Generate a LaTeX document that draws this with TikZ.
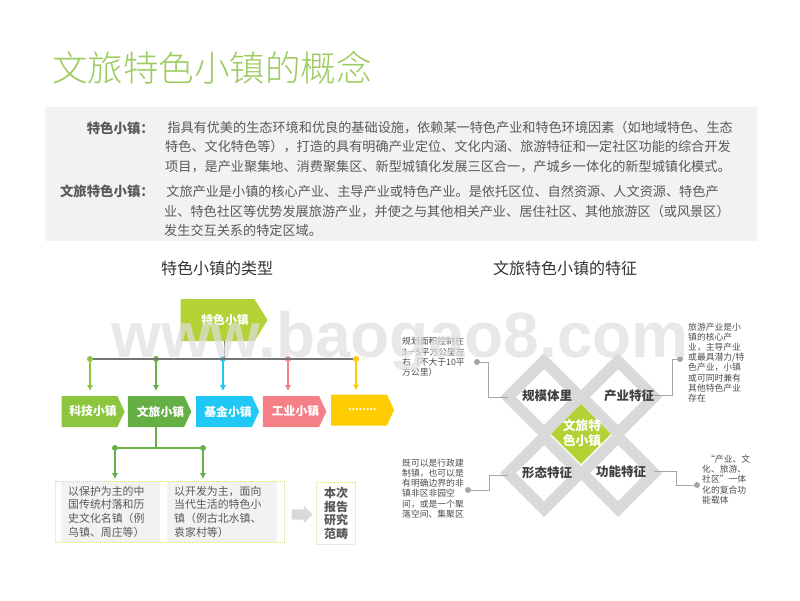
\documentclass[tikz,border=0pt]{standalone}
\usepackage{fontspec}
\setmainfont{Noto Sans CJK SC}
\newfontfamily\markfont{Liberation Sans}
\newfontfamily\lightfont{Noto Sans CJK SC Light}
\usetikzlibrary{arrows.meta,shapes.geometric,shapes.symbols,shapes.arrows}
\definecolor{titlegreen}{HTML}{9CCB5F}
\definecolor{panelgray}{HTML}{F2F2F2}
\definecolor{limegreen}{HTML}{B2D235}
\definecolor{leafgreen}{HTML}{8CC63F}
\definecolor{darkgreen}{HTML}{66AF45}
\definecolor{skyblue}{HTML}{1FC8F5}
\definecolor{rosered}{HTML}{F47F86}
\definecolor{sunyellow}{HTML}{FFCC00}
\definecolor{linegray}{HTML}{A6A6A6}
\definecolor{framegray}{HTML}{D9D9D9}
\definecolor{bodygray}{HTML}{595959}
\tikzset{
  tag/.style={signal, signal to=east, signal from=nowhere, signal pointer angle=130, inner sep=0, outer sep=0, minimum width=63, minimum height=31, text=white, font=\fontsize{11.8}{15}\selectfont\bfseries},
  dot/.style={circle, fill, inner sep=0, minimum size=6},
  drop/.style={line width=1.2, -{Latex[length=6,width=6.5]}},
  bodytext/.style={anchor=west, align=left, inner sep=0, text=bodygray, font=\fontsize{13.15}{19.5}\selectfont},
  bodyhead/.style={anchor=east, inner sep=0, text=bodygray, font=\fontsize{13.4}{15}\selectfont\bfseries},
  subhead/.style={inner sep=0, text=black!80, font=\fontsize{16}{18}\selectfont},
  typetext/.style={anchor=west, align=left, inner sep=0, text=bodygray, font=\fontsize{10.9}{13.7}\selectfont},
  sidetext/.style={anchor=west, align=left, inner sep=0, text=black!70, font=\fontsize{8.8}{10.2}\selectfont},
  frame/.style={diamond, draw=framegray, fill=white, line width=11.3, aspect=1, inner sep=0, outer sep=0, minimum size=72},
  framelabel/.style={inner sep=0, text=black!75, font=\fontsize{12.5}{15}\selectfont\bfseries},
  dotbox/.style={draw=limegreen!60, densely dotted, line width=1},
}
\begin{document}
\begin{tikzpicture}[x=1pt,y=-1pt]
\useasboundingbox (0,0) rectangle (800,600);
\node[inner sep=0, anchor=west, text=titlegreen, font=\lightfont\fontsize{35.5}{38}\selectfont] (title) at (52,68) {文旅特色小镇的概念};
\node[fill=panelgray, inner sep=0, minimum width=712, minimum height=134, anchor=north west] (panel) at (45,107) {};
\node[bodyhead] (headtown) at (154,128) {特色小镇：};
\node[bodytext] (texttown) at (165,147) {\,指具有优美的生态环境和优良的基础设施，依赖某一特色产业和特色环境因素（如地域特色、生态\\特色、文化特色等），打造的具有明确产业定位、文化内涵、旅游特征和一定社区功能的综合开发\\项目，是产业聚集地、消费聚集区、新型城镇化发展三区合一，产城乡一体化的新型城镇化模式。};
\node[bodyhead] (headtour) at (154,191) {文旅特色小镇：};
\node[bodytext] (texttour) at (164,211) {\,文旅产业是小镇的核心产业、主导产业或特色产业。是依托区位、自然资源、人文资源、特色产\\业、特色社区等优势发展旅游产业，并使之与其他相关产业、居住社区、其他旅游区（或风景区）\\发生交互关系的特定区域。};
\node[subhead] (headtype) at (217,268) {特色小镇的类型};
\node[subhead] (headfeat) at (565,268) {文旅特色小镇的特征};

\node[tag, fill=limegreen, minimum width=87, minimum height=42, signal pointer angle=116] (tid0) at (217.5,320) {\hspace*{15pt}特色小镇};
\node[tag, fill=leafgreen] (tid1) at (89.5,411.5) {\hspace*{7pt}科技小镇};
\node[tag, fill=darkgreen] (tid2) at (156,411.5) {\hspace*{9pt}文旅小镇};
\node[tag, fill=skyblue] (tid3) at (224,411.5) {\hspace*{8pt}基金小镇};
\node[tag, fill=rosered] (tid4) at (291,411.5) {\hspace*{9pt}工业小镇};
\node[tag, fill=sunyellow, font=\fontsize{10}{15}\selectfont\bfseries] (tid5) at (359,410) {\hspace*{7pt}........};
\coordinate (tbranch) at (224,359);
\node[dot, leafgreen] (bid1) at (90,359) {};
\node[dot, darkgreen] (bid2) at (156,359) {};
\node[dot, skyblue] (bid3) at (223,359) {};
\node[dot, rosered] (bid4) at (288,359) {};
\node[dot, sunyellow] (bid5) at (356,359) {};
\draw[linegray!70!black, line width=1] (tid0.south -| tbranch) -- (tbranch);
\draw[linegray!70!black, line width=1.5] (bid1) -- (bid5);
\draw[drop, leafgreen, shorten >=5] (bid1) -- (bid1 |- tid1.north);
\draw[drop, darkgreen, shorten >=5] (bid2) -- (bid2 |- tid2.north);
\draw[drop, skyblue, shorten >=5] (bid3) -- (bid3 |- tid3.north);
\draw[drop, rosered, shorten >=5] (bid4) -- (bid4 |- tid4.north);
\draw[drop, sunyellow, shorten >=4] (bid5) -- (bid5 |- tid5.north);

\node[dot, darkgreen] (bid6) at (115,448) {};
\node[dot, darkgreen] (bid7) at (203,448) {};
\coordinate (tbend) at (156,448);
\node[fill=panelgray, inner sep=0, minimum width=99, minimum height=61, anchor=north west] (boxold) at (61,481) {};
\node[fill=panelgray, inner sep=0, minimum width=110, minimum height=61, anchor=north west] (boxnew) at (167,481) {};
\node[dotbox, inner sep=0, minimum width=229, minimum height=61, anchor=north west] (boxall) at (55,481) {};
\node[typetext] (textold) at (68,511.5) {以保护为主的中\\国传统村落和历\\史文化名镇（例\\乌镇、周庄等）};
\node[typetext] (textnew) at (174,511.5) {以开发为主，面向\\当代生活的特色小\\镇（例古北水镇、\\袁家村等）};
\draw[darkgreen, line width=1.4] (tid2.south -| tbend) -- (tbend);
\draw[darkgreen, line width=1.4] (bid6) -- (bid7);
\draw[drop, darkgreen, shorten >=2] (bid6) -- (bid6 |- boxall.north);
\draw[drop, darkgreen, shorten >=2] (bid7) -- (bid7 |- boxall.north);
\node[single arrow, fill=framegray, inner xsep=0, inner ysep=5, outer sep=0, minimum height=21, single arrow head extend=3.5, single arrow tip angle=90] (arrowscope) at (299.5,514.5) {};
\node[dotbox, inner sep=0, minimum width=39, minimum height=62, align=center, text=bodygray, font=\fontsize{12}{13.4}\selectfont\bfseries, anchor=north west] (boxscope) at (316,482) {本次\\报告\\研究\\范畴};

\node[frame] (fid1) at (544,397) {};
\node[frame] (fid2) at (618,397) {};
\node[frame] (fid3) at (544,473) {};
\node[frame] (fid4) at (618,473) {};
\node[diamond, fill=limegreen, aspect=1, inner sep=0, minimum size=60] (fid0) at (581,434) {};
\node[inner sep=0, align=center, text=white, font=\fontsize{12.8}{14.5}\selectfont\bfseries] (centerlabel) at (582,433) {文旅特\\色小镇};
\node[framelabel] (lid1) at (547,396) {规模体里};
\node[framelabel] (lid2) at (629,396) {产业特征};
\node[framelabel] (lid3) at (547,473) {形态特征};
\node[framelabel] (lid4) at (621,472) {功能特征};

\node[dot, linegray] (did1) at (477,362) {};
\node[dot, linegray] (did2) at (680,359) {};
\node[dot, linegray] (did3) at (468,490) {};
\node[dot, linegray] (did4) at (697,485) {};
\coordinate (cid1) at (488,397);
\coordinate (cid2) at (672,395);
\coordinate (cid3) at (489,475);
\coordinate (cid4) at (676,471);
\draw[linegray, line width=.8] (did1) -| (cid1) -- (cid1 -| fid1.west);
\draw[linegray, line width=.8] (did2) -| (cid2) -- (cid2 -| fid2.east);
\draw[linegray, line width=.8] (did3) -| (cid3) -- (cid3 -| fid3.west);
\draw[linegray, line width=.8] (did4) -| (cid4) -- (cid4 -| fid4.east);

\node[sidetext] (sid1) at (402,357) {规划面积控制在\\3－5平方公里左\\右（不大于10平\\方公里）};
\node[sidetext] (sid2) at (688,362.5) {旅游产业是小\\镇的核心产\\业，主导产业\\或最具潜力/特\\色产业，小镇\\或可同时兼有\\其他特色产业\\存在};
\node[sidetext] (sid3) at (402,488.5) {既可以是行政建\\制镇，也可以是\\有明确边界的非\\镇非区非园空\\间，或是一个聚\\落空间、集聚区};
\node[sidetext] (sid4) at (702,479.5) {\ \ “产业、文\\化、旅游、\\社区”一体\\化的复合功\\能载体};

\node[inner sep=0, text=black!13, opacity=.7, font=\markfont\fontsize{64}{66}\selectfont\bfseries] (watermark) at (400,341) {www.baogao8.com};
\end{tikzpicture}
\end{document}
